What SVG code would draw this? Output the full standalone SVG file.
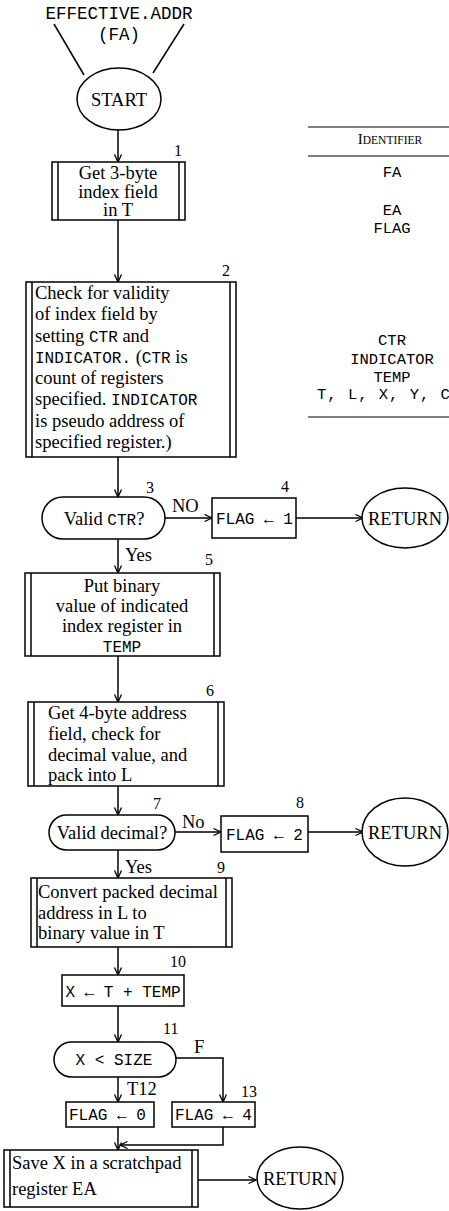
<svg xmlns="http://www.w3.org/2000/svg" width="449" height="1211" viewBox="0 0 449 1211">
<style>
.s{fill:#fff;stroke:#000;stroke-width:1.5}
.l{fill:none;stroke:#000;stroke-width:1.5}
.t{font-family:"Liberation Serif",serif;font-size:18.5px;fill:#000}
.m{font-family:"Liberation Mono",monospace;font-size:16px;fill:#000}
.n{font-family:"Liberation Serif",serif;font-size:16px;fill:#000}
.c{text-anchor:middle}
</style>
<defs>
<marker id="ah" markerWidth="10" markerHeight="10" refX="8" refY="4" orient="auto" markerUnits="userSpaceOnUse"><path d="M0.5,0.5 L8,4 L0.5,7.5" fill="none" stroke="#000" stroke-width="1.3"/></marker>
</defs>
<rect width="449" height="1211" fill="#fff"/>
<g id="connectors" class="l">
<path d="M54,24 L84,75"/>
<path d="M184,24 L153,73"/>
<path d="M118,130 V162" marker-end="url(#ah)"/>
<path d="M118,220 V282" marker-end="url(#ah)"/>
<path d="M118,457 V497" marker-end="url(#ah)"/>
<path d="M165,518 H212" marker-end="url(#ah)"/>
<path d="M296,518 H363" marker-end="url(#ah)"/>
<path d="M118,539 V573" marker-end="url(#ah)"/>
<path d="M118,656 V702" marker-end="url(#ah)"/>
<path d="M118,786 V815" marker-end="url(#ah)"/>
<path d="M175,832 H221" marker-end="url(#ah)"/>
<path d="M308,832 H363" marker-end="url(#ah)"/>
<path d="M118,850 V878" marker-end="url(#ah)"/>
<path d="M118,947 V975" marker-end="url(#ah)"/>
<path d="M118,1006 V1042" marker-end="url(#ah)"/>
<path d="M118,1077 V1102" marker-end="url(#ah)"/>
<path d="M176,1058 H223 V1102" marker-end="url(#ah)"/>
<path d="M118,1127 V1150" marker-end="url(#ah)"/>
<path d="M223,1127 V1145 H120" marker-end="url(#ah)"/>
<path d="M198,1180 H256" marker-end="url(#ah)"/>
</g>
<g id="entry">
<text class="m c" x="119" y="19" style="font-size:17.5px">EFFECTIVE.ADDR</text>
<text class="m c" x="119" y="40" style="font-size:17.5px">(FA)</text>
</g>
<g id="start">
<ellipse class="s" cx="119" cy="99" rx="42" ry="31"/>
<text class="t c" x="119" y="106">START</text>
</g>
<g id="n1">
<rect class="s" x="52" y="162" width="133" height="58"/>
<path class="l" d="M58,162 V220 M179,162 V220"/>
<text class="t c" x="118" y="179">Get 3-byte</text>
<text class="t c" x="118" y="198">index field</text>
<text class="t c" x="118" y="216">in T</text>
<text class="n" x="174" y="156">1</text>
</g>
<g id="n2">
<rect class="s" x="26" y="282" width="210" height="175"/>
<path class="l" d="M32,282 V457 M230,282 V457"/>
<text class="t" x="35" y="299">Check for validity</text>
<text class="t" x="35" y="320">of index field by</text>
<text class="t" x="35" y="342">setting <tspan class="m">CTR</tspan> and</text>
<text class="t" x="35" y="363"><tspan class="m">INDICATOR.</tspan> (<tspan class="m">CTR</tspan> is</text>
<text class="t" x="35" y="384">count of registers</text>
<text class="t" x="35" y="405">specified. <tspan class="m">INDICATOR</tspan></text>
<text class="t" x="35" y="427">is pseudo address of</text>
<text class="t" x="35" y="448">specified register.)</text>
<text class="n" x="222" y="276">2</text>
</g>
<g id="n3">
<rect class="s" x="42" y="497" width="123" height="42" rx="21"/>
<text class="t c" x="104" y="525">Valid <tspan class="m">CTR</tspan>?</text>
<text class="n" x="146" y="493">3</text>
<text class="t" x="172" y="512">NO</text>
<text class="t" x="125" y="561">Yes</text>
</g>
<g id="n4">
<rect class="s" x="212" y="498" width="84" height="40"/>
<text class="m" x="216" y="524">FLAG ← 1</text>
<text class="n" x="281" y="492">4</text>
</g>
<g id="r1">
<ellipse class="s" cx="405" cy="518" rx="43" ry="30"/>
<text class="t c" x="405" y="525">RETURN</text>
</g>
<g id="n5">
<rect class="s" x="25" y="573" width="195" height="83"/>
<path class="l" d="M31,573 V656 M214,573 V656"/>
<text class="t c" x="122" y="592">Put binary</text>
<text class="t c" x="122" y="612">value of indicated</text>
<text class="t c" x="122" y="632">index register in</text>
<text class="m c" x="122" y="652">TEMP</text>
<text class="n" x="205" y="565">5</text>
</g>
<g id="n6">
<rect class="s" x="28" y="702" width="196" height="84"/>
<path class="l" d="M34,702 V786 M218,702 V786"/>
<text class="t" x="48" y="719">Get 4-byte address</text>
<text class="t" x="48" y="740">field, check for</text>
<text class="t" x="48" y="761">decimal value, and</text>
<text class="t" x="48" y="781">pack into L</text>
<text class="n" x="206" y="696">6</text>
</g>
<g id="n7">
<rect class="s" x="49" y="815" width="126" height="35" rx="17.5"/>
<text class="t c" x="112" y="839">Valid decimal?</text>
<text class="n" x="153" y="809">7</text>
<text class="t" x="182" y="828">No</text>
<text class="t" x="125" y="873">Yes</text>
</g>
<g id="n8">
<rect class="s" x="221" y="816" width="87" height="36"/>
<text class="m" x="226" y="840">FLAG ← 2</text>
<text class="n" x="296" y="808">8</text>
</g>
<g id="r2">
<ellipse class="s" cx="405" cy="832" rx="43" ry="34"/>
<text class="t c" x="405" y="839">RETURN</text>
</g>
<g id="n9">
<rect class="s" x="31" y="878" width="201" height="69"/>
<path class="l" d="M37,878 V947 M226,878 V947"/>
<text class="t" x="38" y="898">Convert packed decimal</text>
<text class="t" x="38" y="919">address in L to</text>
<text class="t" x="38" y="939">binary value in T</text>
<text class="n" x="217" y="873">9</text>
</g>
<g id="n10">
<rect class="s" x="62" y="975" width="122" height="31"/>
<text class="m c" x="123" y="997">X ← T + TEMP</text>
<text class="n" x="170" y="967">10</text>
</g>
<g id="n11">
<rect class="s" x="54" y="1042" width="122" height="35" rx="17.5"/>
<text class="m c" x="114" y="1065">X &lt; SIZE</text>
<text class="n" x="163" y="1034">11</text>
<text class="t" x="194" y="1053">F</text>
<text class="t" x="127" y="1095">T12</text>
</g>
<g id="n12">
<rect class="s" x="66" y="1102" width="88" height="25"/>
<text class="m" x="69" y="1120">FLAG ← 0</text>
</g>
<g id="n13">
<rect class="s" x="172" y="1102" width="83" height="25"/>
<text class="m" x="175" y="1120">FLAG ← 4</text>
<text class="n" x="241" y="1097">13</text>
</g>
<g id="n14">
<rect class="s" x="4" y="1150" width="194" height="57"/>
<path class="l" d="M10,1150 V1207 M192,1150 V1207"/>
<text class="t" x="12" y="1169">Save X in a scratchpad</text>
<text class="t" x="12" y="1195">register EA</text>
</g>
<g id="r3">
<ellipse class="s" cx="300" cy="1178" rx="43" ry="31"/>
<text class="t c" x="300" y="1185">RETURN</text>
</g>
<g id="table">
<path class="l" d="M308,127 H449 M308,156 H449 M308,417 H449" style="stroke-width:1.2"/>
<text class="n c" x="390" y="144" style="font-size:15px">I<tspan style="font-size:11.5px">DENTIFIER</tspan></text>
<text class="m c" x="392" y="177" style="font-size:15.5px">FA</text>
<text class="m c" x="392" y="215" style="font-size:15.5px">EA</text>
<text class="m c" x="392" y="233" style="font-size:15.5px">FLAG</text>
<text class="m c" x="392" y="345" style="font-size:15.5px">CTR</text>
<text class="m c" x="392" y="364" style="font-size:15.5px">INDICATOR</text>
<text class="m c" x="392" y="382" style="font-size:15.5px">TEMP</text>
<text class="m" x="317" y="399" style="font-size:15.5px;letter-spacing:1px">T, L, X, Y, C</text>
</g>
</svg>
